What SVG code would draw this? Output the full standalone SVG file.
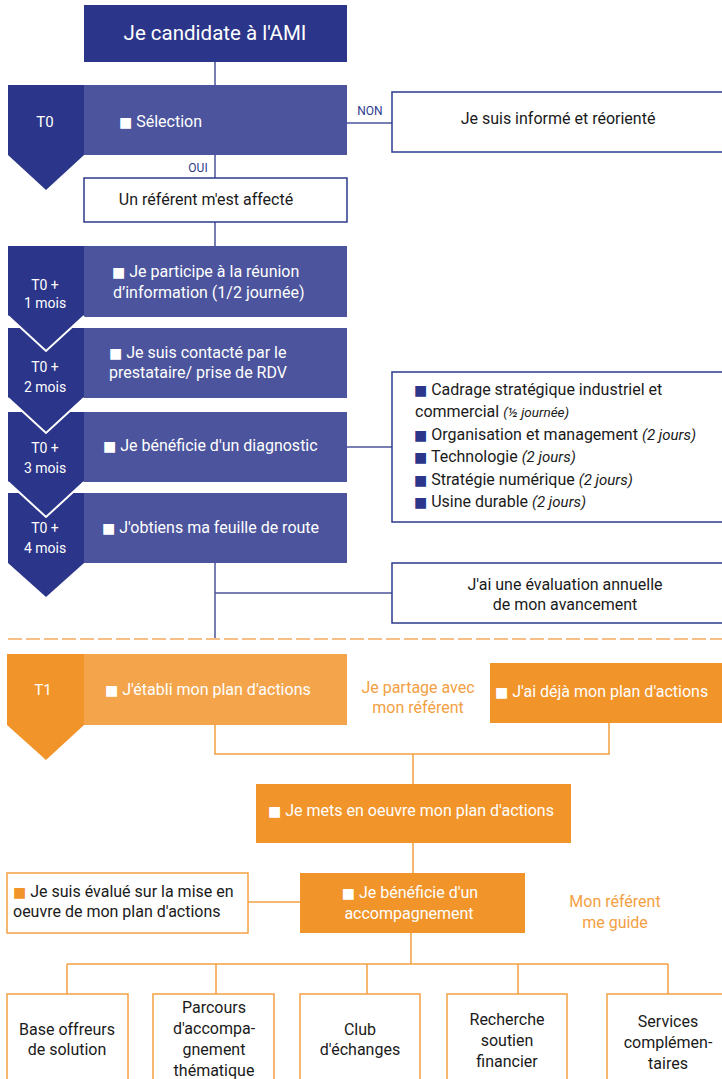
<svg xmlns="http://www.w3.org/2000/svg" width="722" height="1079" viewBox="0 0 722 1079">
<style>
text{font-family:Roboto,"Liberation Sans",sans-serif;font-size:16px;fill:#1a1a1a}
.w{fill:#ffffff}
.c{text-anchor:middle}
.t{font-size:20.5px}
.lab{font-size:14px;fill:#fff;text-anchor:middle}
.small{font-size:12px;fill:#2e3a8c;text-anchor:middle}
.or{fill:#f3a043}
.it{font-style:italic;font-size:15px}
.it2{font-style:italic;font-size:13.5px}
.b{font-family:"DejaVu Sans",sans-serif;font-size:14px}
.bb{fill:#2b3589}
.bo{fill:#f1942a}
.dk{fill:#2b3589}
.md{fill:#4b549c}
.wb{fill:#fff;stroke:#2e3a8c;stroke-width:1.5}
.wo{fill:#fff;stroke:#f3a043;stroke-width:1.5}
.odk{fill:#f1942a}
.olt{fill:#f4a54b}
.tip{fill:none;stroke:#fff;stroke-width:2}
#connectors .bl{fill:none;stroke:#4b549c;stroke-width:1.5}
#connectors .ol{fill:none;stroke:#f3a043;stroke-width:1.5}
#connectors .da{fill:none;stroke:#f6bf86;stroke-width:2;stroke-dasharray:14 4}
</style>

<g id="connectors">
<path class="bl" d="M215 62V85M347 123H392M215 155V178M215 222V246M347 447H392M215 563V639M215 593H392"/>
<path class="da" d="M8 639H722"/>
<path class="ol" d="M215 725V754H609V723M413 754V784M413 843V873M248 902H300M411 933V964M67 964H668M67 964V994M216 964V994M367 964V994M518 964V994M668 964V994"/>
</g>

<g id="n-title">
<rect class="dk" x="84" y="5" width="263" height="57"/>
<text class="w c t" x="215" y="40">Je candidate à l'AMI</text>
</g>

<g id="n-selection">
<rect class="md" x="84" y="85" width="263" height="70"/>
<text class="w" x="119" y="127"><tspan class="b w">■</tspan> Sélection</text>
</g>

<g id="n-t0">
<path class="dk" d="M8 85H84V155L46 190L8 155Z"/>
<text class="lab" x="45" y="127" style="font-size:15px">T0</text>
</g>

<g id="n-non">
<rect class="wb" x="392" y="92" width="340" height="60"/>
<text class="c" x="558" y="124">Je suis informé et réorienté</text>
<text class="small" x="370" y="115">NON</text>
</g>

<g id="n-referent">
<text class="small" x="198" y="172">OUI</text>
<rect class="wb" x="84" y="178" width="263" height="44"/>
<text class="c" x="206" y="205">Un référent m'est affecté</text>
</g>

<g id="n-blocks">
<rect class="md" x="84" y="246" width="263" height="71"/>
<rect class="md" x="84" y="328" width="263" height="70"/>
<rect class="md" x="84" y="412" width="263" height="70"/>
<rect class="md" x="84" y="493" width="263" height="70"/>
</g>

<g id="n-chevrons">
<path class="dk" d="M8 493H84V563L46 597L8 563Z"/>
<path class="dk" d="M8 412H84V482L46 517L8 482Z"/>
<path class="tip" d="M8 482L46 517L84 482"/>
<path class="dk" d="M8 328H84V398L46 433L8 398Z"/>
<path class="tip" d="M8 398L46 433L84 398"/>
<path class="dk" d="M8 246H84V316L46 351L8 316Z"/>
<path class="tip" d="M8 316L46 351L84 316"/>
</g>

<g id="n-m1">
<text class="lab" x="45" y="290">T0 +</text>
<text class="lab" x="45" y="308">1 mois</text>
<text class="w" x="112" y="277"><tspan class="b w">■</tspan> Je participe à la réunion</text>
<text class="w" x="113" y="298">d’information (1/2 journée)</text>
</g>

<g id="n-m2">
<text class="lab" x="45" y="372">T0 +</text>
<text class="lab" x="45" y="392">2 mois</text>
<text class="w" x="109" y="358"><tspan class="b w">■</tspan> Je suis contacté par le</text>
<text class="w" x="109" y="378">prestataire/ prise de RDV</text>
</g>

<g id="n-m3">
<text class="lab" x="45" y="453">T0 +</text>
<text class="lab" x="45" y="473">3 mois</text>
<text class="w" x="103" y="451"><tspan class="b w">■</tspan> Je bénéficie d'un diagnostic</text>
</g>

<g id="n-m4">
<text class="lab" x="45" y="533">T0 +</text>
<text class="lab" x="45" y="553">4 mois</text>
<text class="w" x="102" y="533"><tspan class="b w">■</tspan> J'obtiens ma feuille de route</text>
</g>

<g id="n-list">
<rect class="wb" x="392" y="372" width="340" height="150"/>
<text x="414" y="395"><tspan class="b bb">■</tspan> Cadrage stratégique industriel et</text>
<text x="415" y="417">commercial <tspan class="it2">(½ journée)</tspan></text>
<text x="414" y="440"><tspan class="b bb">■</tspan> Organisation et management <tspan class="it">(2 jours)</tspan></text>
<text x="414" y="462"><tspan class="b bb">■</tspan> Technologie <tspan class="it">(2 jours)</tspan></text>
<text x="414" y="485"><tspan class="b bb">■</tspan> Stratégie numérique <tspan class="it">(2 jours)</tspan></text>
<text x="414" y="507"><tspan class="b bb">■</tspan> Usine durable <tspan class="it">(2 jours)</tspan></text>
</g>

<g id="n-eval">
<rect class="wb" x="392" y="563" width="340" height="60"/>
<text class="c" x="565" y="590">J'ai une évaluation annuelle</text>
<text class="c" x="565" y="610">de mon avancement</text>
</g>

<g id="n-t1">
<rect class="olt" x="84" y="654" width="263" height="71"/>
<path class="odk" d="M7 654H84V725L46 760L7 725Z"/>
<text class="lab" x="43" y="695" style="font-size:15px">T1</text>
<text class="w" x="105" y="695"><tspan class="b w">■</tspan> J'établi mon plan d'actions</text>
</g>

<g id="n-partage">
<text class="c or" x="418" y="693">Je partage avec</text>
<text class="c or" x="418" y="713">mon référent</text>
</g>

<g id="n-deja">
<rect class="odk" x="490" y="663" width="240" height="60"/>
<text class="w" x="495" y="697"><tspan class="b w">■</tspan> J'ai déjà mon plan d'actions</text>
</g>

<g id="n-oeuvre">
<rect class="odk" x="256" y="784" width="315" height="59"/>
<text class="w c" x="411" y="816"><tspan class="b w">■</tspan> Je mets en oeuvre mon plan d'actions</text>
</g>

<g id="n-evalue">
<rect class="wo" x="7" y="873" width="241" height="60"/>
<text x="13" y="897"><tspan class="b bo">■</tspan> Je suis évalué sur la mise en</text>
<text x="13" y="917">oeuvre de mon plan d'actions</text>
</g>

<g id="n-accomp">
<rect class="odk" x="300" y="873" width="225" height="60"/>
<text class="w c" x="410" y="898"><tspan class="b w">■</tspan> Je bénéficie d'un</text>
<text class="w c" x="409" y="919">accompagnement</text>
</g>

<g id="n-guide">
<text class="c or" x="615" y="907">Mon référent</text>
<text class="c or" x="615" y="928">me guide</text>
</g>

<g id="n-base">
<rect class="wo" x="7" y="994" width="121" height="95"/>
<text class="c" x="67" y="1035">Base offreurs</text>
<text class="c" x="67" y="1055">de solution</text>
</g>

<g id="n-parcours">
<rect class="wo" x="153" y="994" width="121" height="95"/>
<text class="c" x="214" y="1013">Parcours</text>
<text class="c" x="214" y="1034">d'accompa-</text>
<text class="c" x="214" y="1055">gnement</text>
<text class="c" x="214" y="1076">thématique</text>
</g>

<g id="n-club">
<rect class="wo" x="300" y="994" width="120" height="95"/>
<text class="c" x="360" y="1035">Club</text>
<text class="c" x="360" y="1055">d'échanges</text>
</g>

<g id="n-recherche">
<rect class="wo" x="447" y="994" width="120" height="95"/>
<text class="c" x="507" y="1025">Recherche</text>
<text class="c" x="507" y="1046">soutien</text>
<text class="c" x="507" y="1067">financier</text>
</g>

<g id="n-services">
<rect class="wo" x="607" y="994" width="125" height="95"/>
<text class="c" x="668" y="1027">Services</text>
<text class="c" x="668" y="1048">complémen-</text>
<text class="c" x="668" y="1069">taires</text>
</g>
</svg>
